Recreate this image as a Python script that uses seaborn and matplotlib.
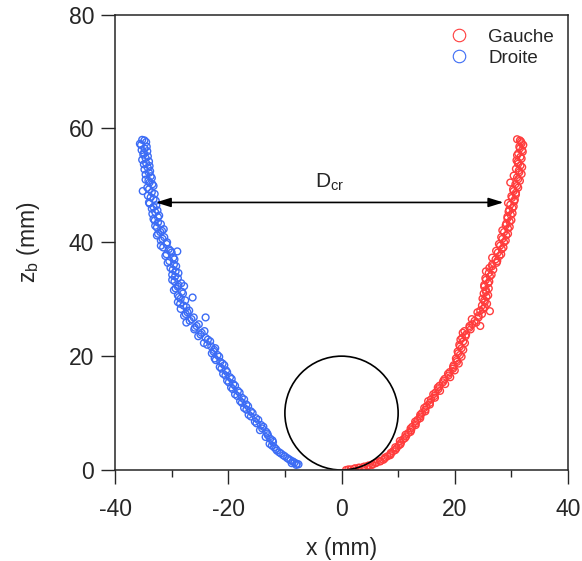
import numpy as np
import pandas as pd
import matplotlib
matplotlib.use("Agg")
import matplotlib.pyplot as plt
from matplotlib.patches import Circle
from matplotlib.lines import Line2D
from matplotlib.ticker import MultipleLocator
import seaborn as sns

# Droite (blue, left branch): x (mm), z_b (mm) - two passes
droite_x = [-35.2, -34.5, -35.4, -34.8, -34.3, -35.0, -34.6, -34.0, -34.9, -34.2,
            -33.8, -34.6, -33.5, -34.1, -33.4, -34.3, -35.1, -33.0, -33.7, -32.8,
            -33.9, -33.2, -32.5, -33.4, -32.4, -33.0, -31.9, -32.6, -31.7, -32.4,
            -31.3, -31.9, -30.9, -31.5, -30.2, -29.0, -30.9, -29.7, -30.4, -29.6,
            -30.2, -29.3, -29.9, -27.8, -28.9, -29.5, -28.8, -29.3, -26.3, -28.2,
            -28.9, -28.4, -28.9, -27.9, -28.4, -27.2, -27.8, -24.0, -26.5, -27.4,
            -25.6, -26.0, -24.7, -25.3, -23.6, -24.3, -23.0, -22.5, -22.9, -21.6,
            -22.2, -21.0, -21.5, -20.4, -20.9, -19.7, -20.2, -19.1, -19.5, -18.3,
            -18.8, -17.6, -17.9, -16.8, -17.2, -16.0, -16.4, -15.1, -15.3, -14.2,
            -14.0, -13.3, -13.0, -12.6, -12.1, -12.3, -11.6, -11.0, -10.3, -9.6,
            -9.0, -8.3, -7.6, -8.0,
            -34.8, -35.6, -34.4, -35.3, -34.9, -34.2, -35.2, -34.5, -33.9, -34.8,
            -34.0, -33.7, -34.6, -33.9, -33.2, -34.0, -33.5, -34.2, -33.2, -34.0,
            -32.7, -33.5, -32.9, -32.2, -33.2, -32.4, -32.9, -31.4, -32.0, -32.6,
            -31.6, -30.8, -31.9, -30.5, -30.0, -31.1, -29.5, -30.7, -29.2, -29.8,
            -28.8, -29.4, -29.9, -28.3, -28.9, -29.6, -28.0, -28.7, -27.6, -28.5,
            -27.4, -26.9, -27.5, -26.1, -26.8, -25.2, -25.9, -24.2, -24.9, -24.0,
            -23.2, -23.7, -22.3, -22.6, -21.9, -22.4, -21.4, -20.7, -21.2, -20.2,
            -20.5, -19.4, -19.9, -18.8, -19.2, -18.0, -18.4, -17.2, -17.6, -16.5,
            -16.8, -15.7, -16.0, -14.7, -15.0, -13.8, -14.4, -13.1, -13.4, -12.2,
            -12.7, -11.9, -11.4, -10.7, -10.0, -9.3, -8.6, -8.8, -7.9]
droite_z = [58.0, 57.6, 57.1, 56.5, 56.0, 55.4, 54.8, 54.2, 53.7, 53.1,
            52.5, 51.9, 51.3, 50.8, 50.2, 49.6, 49.0, 48.5, 47.9, 47.3,
            46.8, 46.2, 45.6, 45.0, 44.4, 43.8, 43.2, 42.6, 42.0, 41.5,
            40.9, 40.3, 39.7, 39.1, 38.5, 38.4, 37.9, 37.3, 36.7, 36.1,
            35.5, 34.9, 34.3, 32.3, 33.7, 33.1, 32.5, 31.9, 30.3, 31.3,
            30.7, 30.1, 29.5, 28.9, 28.3, 27.7, 27.1, 26.8, 26.5, 25.9,
            25.3, 24.7, 24.1, 23.5, 22.9, 22.3, 21.7, 21.1, 20.5, 19.9,
            19.3, 18.7, 18.1, 17.5, 16.9, 16.3, 15.7, 15.1, 14.5, 13.9,
            13.3, 12.7, 12.1, 11.5, 10.9, 10.3, 9.7, 9.1, 8.5, 7.9,
            7.3, 6.7, 6.1, 5.5, 4.9, 4.3, 3.7, 3.1, 2.6, 2.1,
            1.7, 1.3, 1.0, 0.9,
            57.9, 57.3, 56.8, 56.2, 55.7, 55.1, 54.5, 53.9, 53.4, 52.8,
            52.2, 51.6, 51.0, 50.5, 49.9, 49.3, 48.8, 48.2, 47.6, 47.0,
            46.5, 45.9, 45.3, 44.7, 44.1, 43.5, 42.9, 42.3, 41.8, 41.2,
            40.6, 40.0, 39.4, 38.8, 38.2, 37.6, 37.0, 36.4, 35.8, 35.2,
            34.6, 34.0, 33.4, 32.8, 32.2, 31.6, 31.0, 30.4, 29.8, 29.2,
            28.6, 28.0, 27.4, 26.8, 26.2, 25.6, 25.0, 24.4, 23.8, 23.2,
            22.6, 22.0, 21.4, 20.8, 20.2, 19.6, 19.0, 18.4, 17.8, 17.2,
            16.6, 16.0, 15.4, 14.8, 14.2, 13.6, 13.0, 12.4, 11.8, 11.2,
            10.6, 10.0, 9.4, 8.8, 8.2, 7.6, 7.0, 6.4, 5.8, 5.2,
            4.6, 4.0, 3.4, 2.9, 2.4, 1.9, 1.5, 1.2, 1.1]

# Gauche (red, right branch)
gauche_x = [0.8, 1.6, 2.4, 3.2, 4.0, 4.8, 5.5, 6.2, 6.9, 7.6,
            8.1, 8.7, 9.1, 9.7, 10.1, 10.5, 10.9, 11.4, 11.8, 12.3,
            12.5, 13.1, 13.4, 13.9, 14.2, 14.8, 15.0, 15.6, 15.8, 16.4,
            16.6, 17.1, 17.3, 17.9, 18.2, 18.9, 19.1, 19.7, 19.8, 20.4,
            20.2, 20.9, 20.5, 21.2, 20.8, 21.5, 21.3, 22.0, 21.7, 22.6,
            23.1, 24.5, 23.5, 24.2, 24.8, 24.5, 26.2, 25.3, 25.7, 25.2,
            25.6, 25.1, 25.5, 25.2, 25.9, 25.5, 26.2, 26.0, 26.8, 26.6,
            27.4, 27.2, 27.9, 27.6, 28.3, 28.0, 28.7, 28.4, 29.1, 28.7,
            29.4, 29.0, 29.7, 29.3, 29.9, 29.5, 30.2, 29.8, 30.5, 30.1,
            30.8, 30.4, 31.2, 30.7, 31.5, 31.0, 31.8, 31.3, 31.9, 31.2,
            30.9, 31.6, 31.2, 31.9, 31.4, 31.8, 31.5,
            1.2, 2.2, 3.0, 3.8, 4.6, 5.4, 6.0, 6.8, 7.4, 7.7,
            8.6, 8.7, 9.5, 9.5, 10.4, 10.3, 11.2, 11.3, 12.2, 12.2,
            13.1, 13.0, 13.9, 13.9, 14.8, 14.6, 15.6, 15.3, 16.5, 16.2,
            17.4, 17.0, 18.3, 18.0, 19.2, 18.8, 20.0, 19.7, 20.7, 20.3,
            21.2, 20.6, 21.5, 20.9, 21.8, 21.0, 21.9, 21.4, 22.8, 22.6,
            23.8, 23.0, 24.2, 24.0, 25.0, 24.8, 25.3, 24.9, 25.9, 25.5,
            26.0, 25.2, 26.1, 25.4, 26.5, 25.5, 26.1, 26.6, 27.5, 26.6,
            28.2, 27.3, 28.6, 27.8, 29.0, 28.2, 29.4, 28.4, 29.7, 29.1,
            30.0, 29.3, 30.2, 29.6, 30.4, 29.4, 30.6, 30.0, 30.8, 30.3,
            31.0, 29.8, 31.2, 30.4, 31.4, 30.8, 31.6, 31.1, 31.8, 31.0,
            32.0, 31.5, 32.1, 31.7, 31.0]
gauche_z = [0.0, 0.1, 0.3, 0.4, 0.6, 0.8, 1.0, 1.3, 1.6, 2.0,
            2.4, 2.8, 3.3, 3.8, 4.3, 4.8, 5.4, 5.9, 6.5, 7.0,
            7.6, 8.2, 8.8, 9.4, 10.0, 10.6, 11.2, 11.8, 12.4, 13.0,
            13.6, 14.2, 14.8, 15.4, 16.0, 16.6, 17.2, 17.8, 18.4, 19.0,
            19.6, 20.2, 20.8, 21.4, 22.0, 22.6, 23.2, 23.8, 24.4, 25.0,
            25.6, 25.3, 26.2, 26.8, 27.4, 28.0, 27.9, 28.6, 29.2, 29.8,
            30.4, 31.0, 31.6, 32.2, 32.8, 33.4, 34.0, 34.6, 35.2, 35.8,
            36.4, 37.0, 37.6, 38.2, 38.8, 39.4, 40.0, 40.6, 41.2, 41.8,
            42.4, 43.0, 43.6, 44.2, 44.8, 45.4, 46.0, 46.6, 47.2, 47.8,
            48.4, 49.0, 49.6, 50.2, 50.8, 51.4, 52.0, 52.6, 53.2, 53.8,
            54.4, 55.0, 55.6, 56.2, 56.8, 57.4, 57.9,
            0.1, 0.2, 0.4, 0.5, 0.7, 0.9, 1.2, 1.5, 1.8, 2.2,
            2.6, 3.0, 3.5, 4.0, 4.5, 5.1, 5.6, 6.2, 6.7, 7.3,
            7.9, 8.5, 9.1, 9.7, 10.3, 10.9, 11.5, 12.1, 12.7, 13.3,
            13.9, 14.5, 15.1, 15.7, 16.3, 16.9, 17.5, 18.1, 18.7, 19.3,
            19.9, 20.5, 21.1, 21.7, 22.3, 22.9, 23.5, 24.1, 24.7, 25.3,
            25.9, 26.5, 27.1, 27.7, 28.3, 28.9, 29.5, 30.1, 30.7, 31.3,
            31.9, 32.5, 33.1, 33.7, 34.3, 34.9, 35.5, 36.1, 36.7, 37.3,
            37.9, 38.5, 39.1, 39.7, 40.3, 40.9, 41.5, 42.1, 42.7, 43.3,
            43.9, 44.5, 45.1, 45.7, 46.3, 46.9, 47.5, 48.1, 48.7, 49.3,
            49.9, 50.5, 51.1, 51.7, 52.3, 52.9, 53.5, 54.1, 54.7, 55.3,
            55.9, 56.5, 57.1, 57.7, 58.1]

series = ["Gauche", "Droite"]
colors = {"Gauche": "#FF3C3C", "Droite": "#3C6CF5"}

# Cylinder (diameter 20 mm) and crater width D_cr
cyl_center = (0, 10)
cyl_radius = 10
dcr_z = 47
dcr_left = -32.8
dcr_right = 28.6

df = pd.concat([
    pd.DataFrame({"x": gauche_x, "z": gauche_z, "side": "Gauche"}),
    pd.DataFrame({"x": droite_x, "z": droite_z, "side": "Droite"}),
])

sns.set_style("ticks")
plt.rcParams["font.family"] = ["Liberation Sans", "DejaVu Sans"]
plt.rcParams["mathtext.fontset"] = "custom"
plt.rcParams["mathtext.rm"] = "Liberation Sans"
plt.rcParams["axes.unicode_minus"] = False

fig = plt.figure(figsize=(5.82, 5.61), dpi=100)
ax = fig.add_axes([0.1976, 0.1622, 0.7784, 0.8118])

for name in series:
    sub = df[df["side"] == name]
    sns.scatterplot(data=sub, x="x", y="z", ax=ax, s=24, linewidth=1.0,
                    marker="o", color=colors[name], legend=False)
    coll = ax.collections[-1]
    coll.set_facecolor("none")
    coll.set_edgecolor(colors[name])

ax.add_patch(Circle(cyl_center, cyl_radius, fill=False, edgecolor="black", lw=1.2))

ax.annotate("", xy=(dcr_left, dcr_z), xytext=(dcr_right, dcr_z),
            arrowprops=dict(arrowstyle="<|-|>,head_length=0.9,head_width=0.28",
                            color="black", lw=1.2, shrinkA=0, shrinkB=0))
ax.text((dcr_left + dcr_right) / 2, dcr_z + 1.6, r"D$_\mathregular{cr}$",
        ha="center", va="bottom", fontsize=15)

ax.set_xlim(-40, 40)
ax.set_ylim(0, 80)
ax.xaxis.set_major_locator(MultipleLocator(20))
ax.xaxis.set_minor_locator(MultipleLocator(10))
ax.yaxis.set_major_locator(MultipleLocator(20))
ax.tick_params(which="major", direction="out", length=10, width=1, labelsize=16.5)
ax.tick_params(axis="x", which="major", pad=10)
ax.tick_params(axis="y", which="major", pad=5)
ax.tick_params(which="minor", direction="out", length=5, width=1)
for sp in ax.spines.values():
    sp.set_linewidth(1.1)
    sp.set_visible(True)

ax.set_xlabel("x (mm)", fontsize=16.5, labelpad=12)
ax.set_ylabel(r"z$_\mathregular{b}$ (mm)", fontsize=16.5, labelpad=19)

handles = [Line2D([], [], marker="o", ls="", mfc="none", mec=colors[n], ms=9, mew=0.8)
           for n in series]
ax.legend(handles, series, loc="upper right", frameon=False, fontsize=13.5,
          handletextpad=0.8, borderaxespad=0.35, labelspacing=0.2, handlelength=1.5)

fig.savefig("out.png", dpi=100)
